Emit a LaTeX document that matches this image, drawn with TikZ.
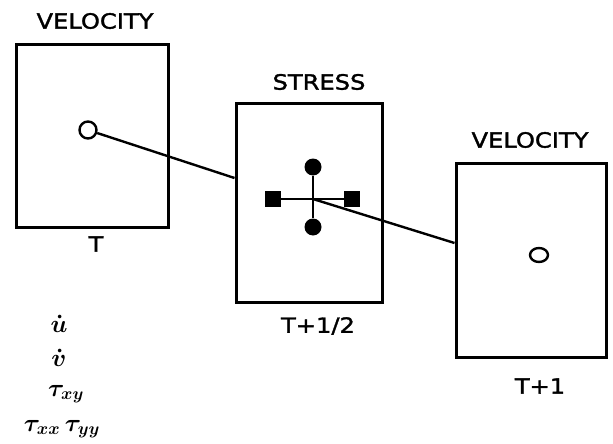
\documentclass[tikz,border=0pt]{standalone}
\usepackage{amsmath}
\usepackage{fontspec}
\newfontfamily\plotfont[FakeStretch=1.15,FakeBold=1.6]{DejaVu Sans}
\usetikzlibrary{shapes.geometric}

\begin{document}
\begin{tikzpicture}[x=1pt,y=-1pt,
	every node/.style={font=\plotfont\fontsize{21}{24}\selectfont},
	frame/.style={draw,line width=3pt,inner sep=0pt},
	link/.style={line width=2.4pt},
	mathlbl/.style={inner sep=0pt,anchor=base,font=\fontsize{26}{30}\selectfont\boldmath}]
	\fill[white] (0,0) rectangle (613,444);
	\useasboundingbox (0,0) rectangle (613,444);
	% boxes
	\node[frame,minimum width=152pt,minimum height=182pt] (vel1) at (92,136) {};
	\node[frame,minimum width=146pt,minimum height=199pt] (stress) at (309,202.5) {};
	\node[frame,minimum width=150pt,minimum height=194pt] (vel2) at (531,260) {};
	% titles and times
	\node (lvel1) at (95,21) {VELOCITY};
	\node (lstress) at (319,82) {STRESS};
	\node (lvel2) at (530,140) {VELOCITY};
	\node (t0) at (96,244) {T};
	\node (thalf) at (318,326) {T+1/2};
	\node (t1) at (540,386) {T+1};
	% points
	\node[draw,circle,line width=2.4pt,minimum size=17pt,inner sep=0pt] (u1) at (88,130) {};
	\node[draw,ellipse,line width=2.4pt,minimum width=18pt,minimum height=14pt,inner sep=0pt] (u2) at (539,255) {};
	\node[fill,circle,minimum size=17pt,inner sep=0pt] (sxy1) at (313,167) {};
	\node[fill,circle,minimum size=17pt,inner sep=0pt] (sxy2) at (313,227) {};
	\node[fill,minimum size=16pt,inner sep=0pt] (sxx) at (273,199) {};
	\node[fill,minimum size=16pt,inner sep=0pt] (syy) at (352,199) {};
	\coordinate (c) at (313,199);
	\coordinate (e1) at (stress.west |- 0,178);
	\coordinate (e2) at (vel2.west |- 0,243);
	\foreach \u/\v in {sxy1/sxy2, sxx/syy, u1/e1, c/e2} {\draw[link] (\u) -- (\v);}
	% variables
	\node[mathlbl] (du) at (59,332) {$\dot u$};
	\node[mathlbl] (dv) at (59,366) {$\dot v$};
	\node[mathlbl] (txy) at (66,396) {$\tau_{xy}$};
	\node[mathlbl] (tdiag) at (62,431) {$\tau_{xx}\,\tau_{yy}$};
\end{tikzpicture}
\end{document}
